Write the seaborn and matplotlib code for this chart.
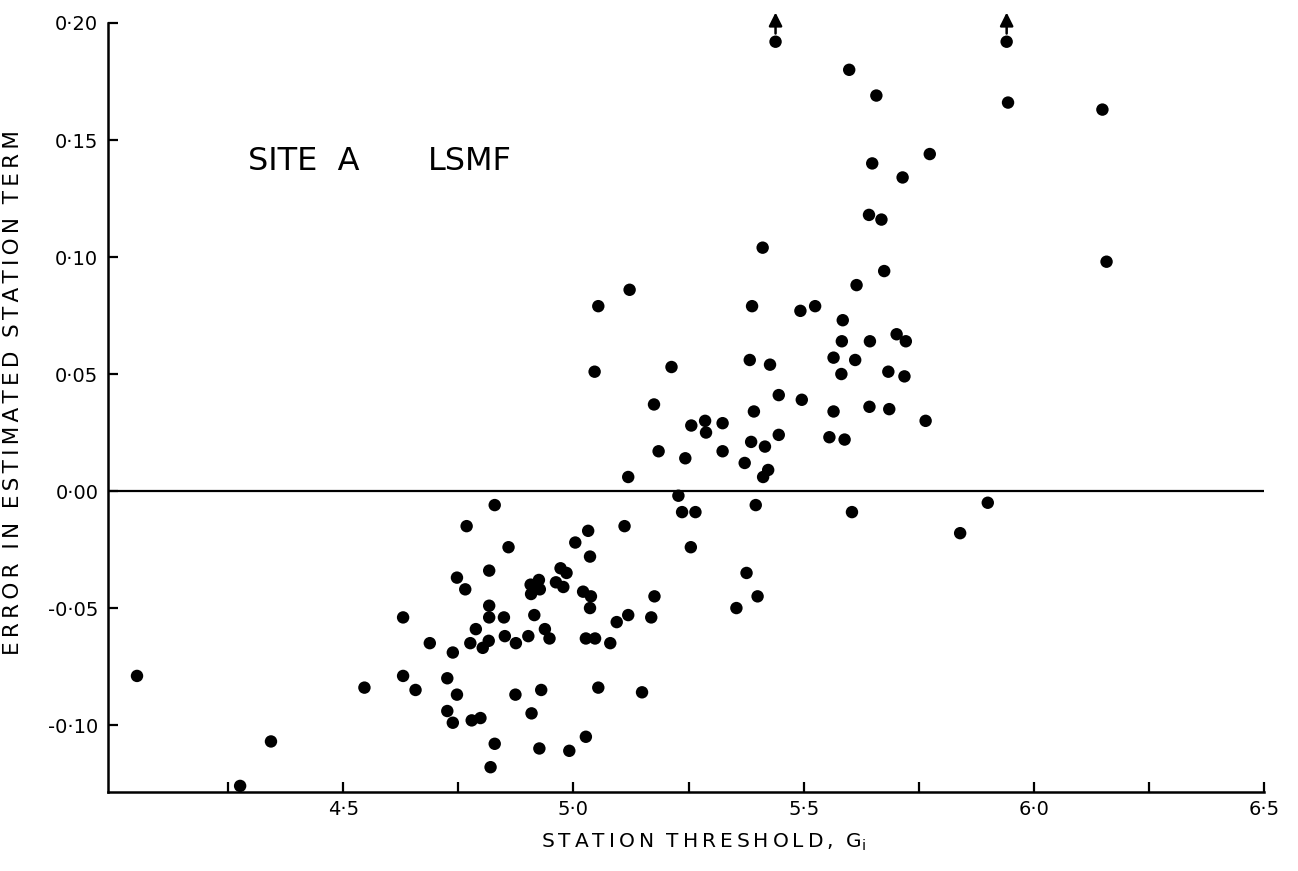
import matplotlib
matplotlib.use("Agg")
import matplotlib.pyplot as plt
import seaborn as sns
import pandas as pd
from matplotlib.ticker import FixedLocator, FixedFormatter

# ---- data ----
threshold = [
    4.829, 4.768, 4.859, 4.747, 4.817, 4.765, 4.817, 4.817, 4.849, 4.630,
    4.788, 4.688, 4.776, 4.816, 4.803, 4.851, 4.875, 4.902, 4.915, 4.938,
    4.948, 4.738, 4.907, 4.925, 4.927, 4.908, 4.962, 4.978, 4.972, 4.985,
    5.004, 5.032, 5.036, 5.111, 5.021, 5.038, 5.036, 5.027, 5.047, 5.080,
    5.094, 5.119, 5.176, 5.169, 5.228, 5.236, 5.265, 5.255, 4.630, 4.657,
    4.726, 4.747, 4.726, 4.738, 4.779, 4.798, 4.874, 4.930, 4.909, 5.054,
    5.149, 4.829, 4.820, 4.926, 4.991, 5.027,
    4.052, 4.276, 4.343, 4.546,
    5.122, 5.054, 5.046, 5.213, 5.175, 5.185, 5.119, 5.256, 5.286, 5.288,
    5.324, 5.243, 5.324, 5.388, 5.383, 5.427, 5.446, 5.392, 5.496, 5.386,
    5.416, 5.446, 5.372, 5.423, 5.412, 5.493, 5.525, 5.411, 5.396,
    5.376, 5.354, 5.400,
    6.158, 5.675, 5.615, 5.585, 5.583, 5.644, 5.702, 5.722, 5.565, 5.612,
    5.582, 5.684, 5.719, 5.565, 5.643, 5.686, 5.765, 5.556, 5.589, 5.605,
    5.840, 5.900,
    5.941, 5.599, 5.658, 5.944, 6.149, 5.774, 5.649, 5.715, 5.642, 5.669,
    5.439,
]
error = [
    -0.006, -0.015, -0.024, -0.037, -0.034, -0.042, -0.049, -0.054, -0.054, -0.054,
    -0.059, -0.065, -0.065, -0.064, -0.067, -0.062, -0.065, -0.062, -0.053, -0.059,
    -0.063, -0.069, -0.040, -0.038, -0.042, -0.044, -0.039, -0.041, -0.033, -0.035,
    -0.022, -0.017, -0.028, -0.015, -0.043, -0.045, -0.050, -0.063, -0.063, -0.065,
    -0.056, -0.053, -0.045, -0.054, -0.002, -0.009, -0.009, -0.024, -0.079, -0.085,
    -0.080, -0.087, -0.094, -0.099, -0.098, -0.097, -0.087, -0.085, -0.095, -0.084,
    -0.086, -0.108, -0.118, -0.110, -0.111, -0.105,
    -0.079, -0.126, -0.107, -0.084,
    0.086, 0.079, 0.051, 0.053, 0.037, 0.017, 0.006, 0.028, 0.030, 0.025,
    0.029, 0.014, 0.017, 0.079, 0.056, 0.054, 0.041, 0.034, 0.039, 0.021,
    0.019, 0.024, 0.012, 0.009, 0.006, 0.077, 0.079, 0.104, -0.006,
    -0.035, -0.050, -0.045,
    0.098, 0.094, 0.088, 0.073, 0.064, 0.064, 0.067, 0.064, 0.057, 0.056,
    0.050, 0.051, 0.049, 0.034, 0.036, 0.035, 0.030, 0.023, 0.022, -0.009,
    -0.018, -0.005,
    0.192, 0.180, 0.169, 0.166, 0.163, 0.144, 0.140, 0.134, 0.118, 0.116,
    0.192,
]
# points whose true value lies off the top of the scale (arrows)
offscale_x = [5.439, 5.941]
offscale_y = [0.192, 0.192]

x_major = [4.5, 5.0, 5.5, 6.0, 6.5]
x_major_labels = ["4·5", "5·0", "5·5", "6·0", "6·5"]
x_minor = [4.25, 4.75, 5.25, 5.75, 6.25]
y_ticks = [-0.10, -0.05, 0.00, 0.05, 0.10, 0.15, 0.20]
y_labels = ["-0·10", "-0·05", "0·00", "0·05", "0·10", "0·15", "0·20"]

df = pd.DataFrame({"threshold": threshold, "error": error})

sns.set_style("ticks")
plt.rcParams["font.family"] = ["DejaVu Sans"]
plt.rcParams["text.color"] = "black"
plt.rcParams["axes.labelcolor"] = "black"
plt.rcParams["xtick.color"] = "black"
plt.rcParams["ytick.color"] = "black"

fig = plt.figure(figsize=(12.98, 8.71), dpi=100)
ax = fig.add_axes([108 / 1298, 79 / 871, 1156 / 1298, 769 / 871])

sns.scatterplot(data=df, x="threshold", y="error", ax=ax, color="black",
                s=80, edgecolor="none", linewidth=0, legend=False, zorder=3)

ax.axhline(0.0, color="black", lw=1.6, zorder=2)

for xv, yv in zip(offscale_x, offscale_y):
    ax.annotate("", xy=(xv, yv + 0.0125), xytext=(xv, yv + 0.0035),
                arrowprops=dict(arrowstyle="-|>", color="black", lw=1.8,
                                mutation_scale=20, shrinkA=0, shrinkB=0),
                annotation_clip=False)

ax.set_xlim(3.989, 6.5)
ax.set_ylim(-0.1286, 0.20)

ax.xaxis.set_major_locator(FixedLocator(x_major))
ax.xaxis.set_major_formatter(FixedFormatter(x_major_labels))
ax.xaxis.set_minor_locator(FixedLocator(x_minor))
ax.yaxis.set_major_locator(FixedLocator(y_ticks))
ax.yaxis.set_major_formatter(FixedFormatter(y_labels))

for side in ["top", "right"]:
    ax.spines[side].set_visible(False)
for side in ["left", "bottom"]:
    ax.spines[side].set_linewidth(1.8)
    ax.spines[side].set_color("black")

ax.tick_params(axis="both", which="both", direction="in", length=7,
               width=1.6, color="black", labelsize=14, labelcolor="black")
ax.tick_params(axis="x", which="major", pad=6)
ax.tick_params(axis="y", which="major", pad=7)

ts = "\u2009"
ylab = "  ".join(ts.join(w) for w in "ERROR IN ESTIMATED STATION TERM".split())
ax.set_ylabel(ylab, fontsize=15.5, color="black")
ax.yaxis.set_label_coords(-0.0735, 0.52)
xlab = "  ".join(ts.join(w) for w in ["STATION", "THRESHOLD,"]) + "  G$_{\\mathregular{i}}$"
ax.set_xlabel(xlab, fontsize=14.5, color="black")
ax.xaxis.set_label_coords(0.515, -0.052)

ax.text(4.293, 0.141, "SITE  A", fontsize=23, ha="left", va="center", color="black")
ax.text(4.683, 0.141, "LSMF", fontsize=23, ha="left", va="center", color="black")

fig.savefig("out.png", dpi=100)
